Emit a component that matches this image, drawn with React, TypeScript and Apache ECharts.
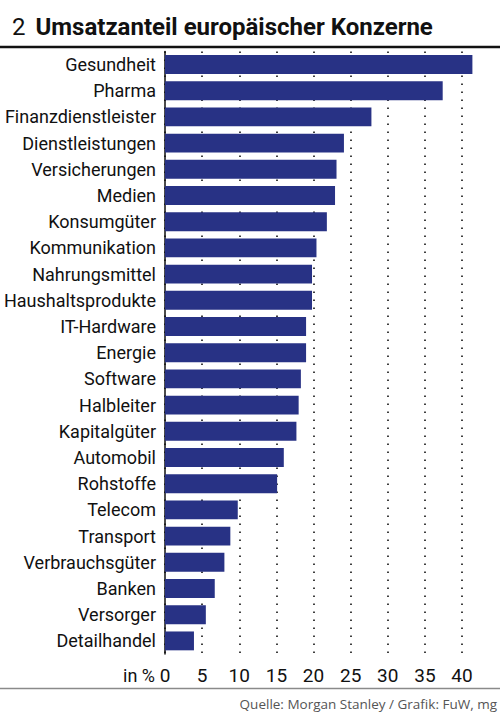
import { useEffect, useRef } from "react";
import * as echarts from "echarts";

const categories = [
  "Gesundheit",
  "Pharma",
  "Finanzdienstleister",
  "Dienstleistungen",
  "Versicherungen",
  "Medien",
  "Konsumgüter",
  "Kommunikation",
  "Nahrungsmittel",
  "Haushaltsprodukte",
  "IT-Hardware",
  "Energie",
  "Software",
  "Halbleiter",
  "Kapitalgüter",
  "Automobil",
  "Rohstoffe",
  "Telecom",
  "Transport",
  "Verbrauchsgüter",
  "Banken",
  "Versorger",
  "Detailhandel",
];

const shares = [
  41.4, 37.4, 27.8, 24.1, 23.1, 22.9, 21.8, 20.4, 19.8, 19.8, 19.0, 19.0, 18.3,
  18.0, 17.7, 16.0, 15.1, 9.8, 8.8, 8.0, 6.7, 5.5, 3.9,
];

const FONT = "Roboto, 'Liberation Sans', sans-serif";

export default function App() {
  const chartRef = useRef<HTMLDivElement>(null);

  useEffect(() => {
    document.body.style.margin = "0";
    if (!chartRef.current) return;
    const chart = echarts.init(chartRef.current, null, { renderer: "svg" });

    chart.setOption({
      animation: false,
      backgroundColor: "#fff",
      title: {
        text: "{n|2}  {b|Umsatzanteil europäischer Konzerne}",
        left: 7,
        top: 10,
        textStyle: {
          rich: {
            n: { fontFamily: FONT, fontSize: 24, fontWeight: "normal", color: "#111" },
            b: { fontFamily: FONT, fontSize: 24, fontWeight: "bold", color: "#111" },
          },
        },
      },
      grid: { left: 165, right: 38, top: 51.4, bottom: 59, outerBoundsMode: "none" },
      xAxis: {
        type: "value",
        min: 0,
        max: 40,
        interval: 5,
        axisLine: { show: false },
        axisTick: { show: false },
        axisLabel: { fontFamily: FONT, fontSize: 19, color: "#111", margin: 12 },
        splitLine: {
          lineStyle: { color: "#111", type: [1.6, 6.4], width: 1.6 },
        },
      },
      yAxis: {
        type: "category",
        inverse: true,
        data: categories,
        axisLine: { lineStyle: { color: "#111", width: 1.5 } },
        axisTick: { show: false },
        axisLabel: {
          fontFamily: FONT,
          fontSize: 18,
          color: "#111",
          margin: 9,
          interval: 0,
        },
      },
      series: [
        {
          type: "bar",
          data: shares,
          clip: false,
          barCategoryGap: "28%",
          itemStyle: { color: "#283285" },
          z: 3,
        },
      ],
      graphic: [
        {
          type: "line",
          shape: { x1: 0, y1: 47, x2: 500, y2: 47 },
          style: { stroke: "#111", lineWidth: 2.5 },
        },
        {
          type: "text",
          x: 155,
          y: 675,
          style: {
            text: "in %",
            fontFamily: FONT,
            fontSize: 18,
            fill: "#111",
            align: "right",
            verticalAlign: "middle",
          },
        },
        {
          type: "line",
          shape: { x1: 0, y1: 688.5, x2: 500, y2: 688.5 },
          style: { stroke: "#8a8a8a", lineWidth: 1.5 },
        },
        {
          type: "text",
          x: 497,
          y: 704,
          style: {
            text: "Quelle: Morgan Stanley / Grafik: FuW, mg",
            fontFamily: "'Open Sans', sans-serif",
            fontSize: 13.5,
            fill: "#555",
            align: "right",
            verticalAlign: "middle",
          },
        },
      ],
    });

    return () => chart.dispose();
  }, []);

  return <div ref={chartRef} style={{ width: 500, height: 713 }} />;
}
